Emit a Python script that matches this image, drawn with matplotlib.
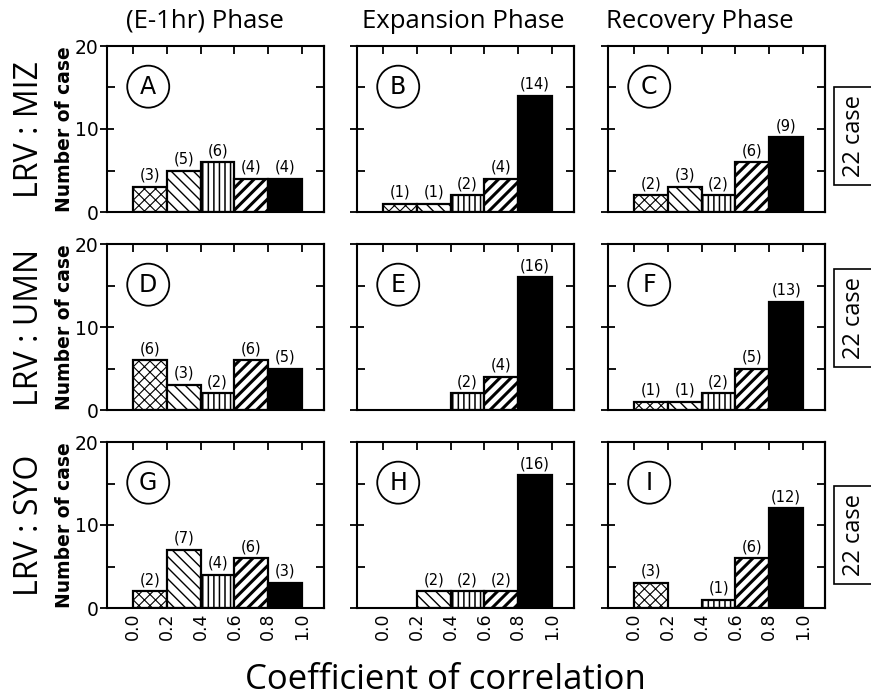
import matplotlib
matplotlib.use("Agg")
import matplotlib.pyplot as plt
from matplotlib.patches import Ellipse

# ---------------- data ----------------
bin_left = [0.0, 0.2, 0.4, 0.6, 0.8]
tick_values = [0.0, 0.2, 0.4, 0.6, 0.8, 1.0]
tick_labels = ["0.0", "0.2", "0.4", "0.6", "0.8", "1.0"]
phases = ["(E-1hr) Phase", "Expansion Phase", "Recovery Phase"]
stations = ["LRV : MIZ", "LRV : UMN", "LRV : SYO"]
case_labels = ["22 case", "22 case", "22 case"]
letters = ["A", "B", "C", "D", "E", "F", "G", "H", "I"]

counts_A = [3, 5, 6, 4, 4]
counts_B = [1, 1, 2, 4, 14]
counts_C = [2, 3, 2, 6, 9]
counts_D = [6, 3, 2, 6, 5]
counts_E = [0, 0, 2, 4, 16]
counts_F = [1, 1, 2, 5, 13]
counts_G = [2, 7, 4, 6, 3]
counts_H = [0, 2, 2, 2, 16]
counts_I = [3, 0, 1, 6, 12]
all_counts = [counts_A, counts_B, counts_C, counts_D, counts_E,
              counts_F, counts_G, counts_H, counts_I]

# ---------------- style ----------------
hatches = ["xxx", "\\\\\\", "|||", "///", None]
hatch_lw = [0.8, 1.0, 1.1, 2.2, 1.0]
faces = ["white", "white", "white", "white", "black"]

W, H = 871, 699
fig = plt.figure(figsize=(W / 100, H / 100), dpi=100)

col_left = [107, 357, 608]
row_top = [46, 244, 442]
ax_w, ax_h = 217, 166

for r in range(3):
    for c in range(3):
        k = r * 3 + c
        vals = all_counts[k]
        ax = fig.add_axes([col_left[c] / W, 1 - (row_top[r] + ax_h) / H,
                           ax_w / W, ax_h / H])
        for i, v in enumerate(vals):
            if v <= 0:
                continue
            with plt.rc_context({"hatch.linewidth": hatch_lw[i]}):
                b = ax.bar(bin_left[i], v, width=0.2, align="edge",
                           color=faces[i], edgecolor="black",
                           hatch=hatches[i], linewidth=1.6)
            for p in b.patches:
                try:
                    p.set_hatch_linewidth(hatch_lw[i])
                except Exception:
                    pass
            ax.annotate(f"({v})", (bin_left[i] + 0.1, v),
                        xytext=(0, 3), textcoords="offset points",
                        ha="center", va="bottom", fontsize=10.5)
        ax.set_xlim(-0.155, 1.13)
        ax.set_ylim(0, 20)
        for s in ax.spines.values():
            s.set_linewidth(1.5)
        # top ticks
        ax.set_xticks(tick_values)
        ax.tick_params(axis="x", which="major", direction="in",
                       top=True, bottom=False, length=6, width=1.3,
                       labelbottom=(r == 2), labelsize=12.5, labelrotation=90,
                       pad=3)
        if r == 2:
            ax.set_xticklabels(tick_labels)
        ax.set_yticks([0, 10, 20])
        ax.set_yticks([5, 15], minor=True)
        ax.tick_params(axis="y", which="major", direction="inout",
                       left=True, right=False, length=10, width=1.3,
                       labelleft=(c == 0), labelsize=13.5, pad=1)
        ax.tick_params(axis="y", which="minor", direction="in",
                       left=True, right=True, length=6, width=1.3)
        # right side tick at 10
        ax2 = ax.secondary_yaxis("right")
        ax2.set_yticks([10])
        ax2.tick_params(direction="in", length=6, width=1.3, labelright=False)
        ax2.spines["right"].set_linewidth(1.5)
        if c == 0:
            ax.set_ylabel("Number of case", fontsize=13.5, fontweight="bold",
                          labelpad=1)
        # circled letter
        e = Ellipse((0.19, 0.755), 42 / ax_w, 42 / ax_h, transform=ax.transAxes,
                    facecolor="none", edgecolor="black", linewidth=1.3)
        ax.add_patch(e)
        ax.text(0.19, 0.755, letters[k], transform=ax.transAxes,
                ha="center", va="center", fontsize=17)

# column titles
title_x = [205, 463, 700]
for c in range(3):
    fig.text(title_x[c] / W, 1 - 21 / H, phases[c], ha="center", va="center",
             fontsize=18.5, family="Open Sans")

# row labels
for r in range(3):
    yc = row_top[r] + ax_h / 2
    fig.text(30 / W, 1 - yc / H, stations[r], rotation=90, ha="center",
             va="center", fontsize=23, family="Open Sans")

# case boxes
case_y = [136, 318, 535]
for r in range(3):
    fig.text(854 / W, 1 - case_y[r] / H, case_labels[r], rotation=90,
             ha="center", va="center", fontsize=17, family="Open Sans",
             bbox=dict(boxstyle="square,pad=0.35", facecolor="white",
                       edgecolor="black", linewidth=1.2))

fig.text(445 / W, 1 - 680 / H, "Coefficient of correlation", ha="center",
         va="center", fontsize=25, family="Open Sans")

fig.savefig("out.png", dpi=100, facecolor="white")
